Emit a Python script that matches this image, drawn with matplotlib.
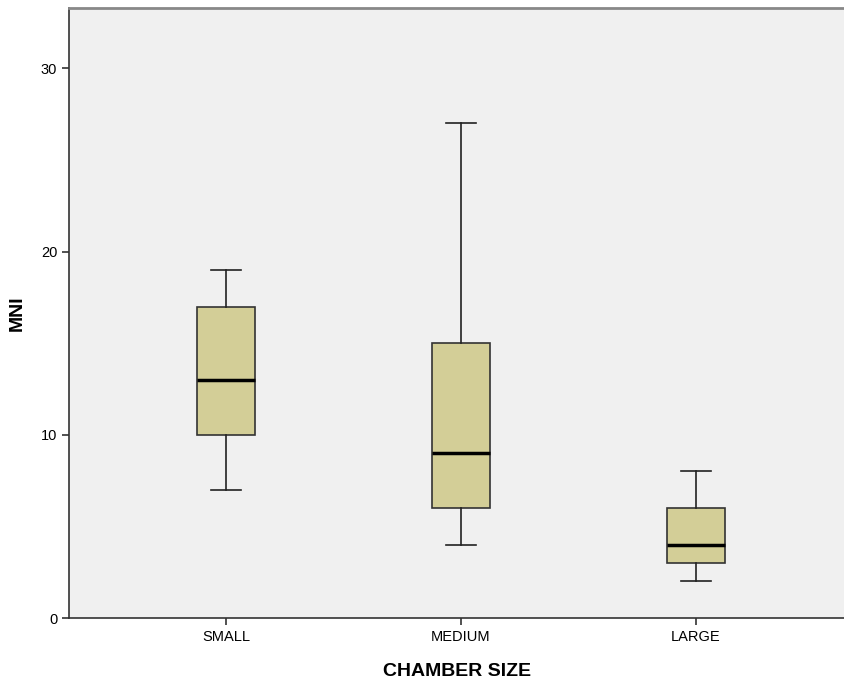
import matplotlib.pyplot as plt

plt.rcParams["font.family"] = ["Liberation Sans", "DejaVu Sans"]

categories = ["SMALL", "MEDIUM", "LARGE"]
whisker_low = [7, 4, 2]
q1 = [10, 6, 3]
median = [13, 9, 4]
q3 = [17, 15, 6]
whisker_high = [19, 27, 8]

stats = []
for i, name in enumerate(categories):
    stats.append({"label": name, "whislo": whisker_low[i], "q1": q1[i],
                  "med": median[i], "q3": q3[i], "whishi": whisker_high[i],
                  "fliers": []})

fig = plt.figure(figsize=(8.45, 6.84), dpi=100)
ax = fig.add_axes([69 / 845, 66 / 684, 1 - 69 / 845, 610 / 684])
ax.set_facecolor("#f0f0f0")

ax.bxp(stats, positions=[1, 2, 3], widths=0.25, patch_artist=True,
       showfliers=False,
       boxprops=dict(facecolor="#d3ce97", edgecolor="#333333", linewidth=1.2),
       medianprops=dict(color="black", linewidth=2.5),
       whiskerprops=dict(color="#222222", linewidth=1.2),
       capprops=dict(color="#222222", linewidth=1.2),
       capwidths=0.125)

ax.set_xlim(0.332, 3.634)
ax.set_ylim(0, 33.3)
ax.set_yticks([0, 10, 20, 30])
ax.set_xticks([1, 2, 3])
ax.set_xticklabels(categories)
ax.tick_params(labelsize=10.5, color="#333333", length=5, width=1.2)

ax.spines["right"].set_visible(False)
ax.spines["top"].set_color("#888888")
ax.spines["top"].set_linewidth(2)
ax.spines["left"].set_color("#333333")
ax.spines["bottom"].set_color("#333333")
ax.spines["left"].set_linewidth(1.2)
ax.spines["bottom"].set_linewidth(1.2)

ax.set_xlabel("CHAMBER SIZE", fontsize=14, fontweight="bold", labelpad=14)
ax.set_ylabel("MNI", fontsize=14, fontweight="bold")
ax.yaxis.set_label_coords(-0.056, 0.5)

plt.savefig("out.png", dpi=100)
